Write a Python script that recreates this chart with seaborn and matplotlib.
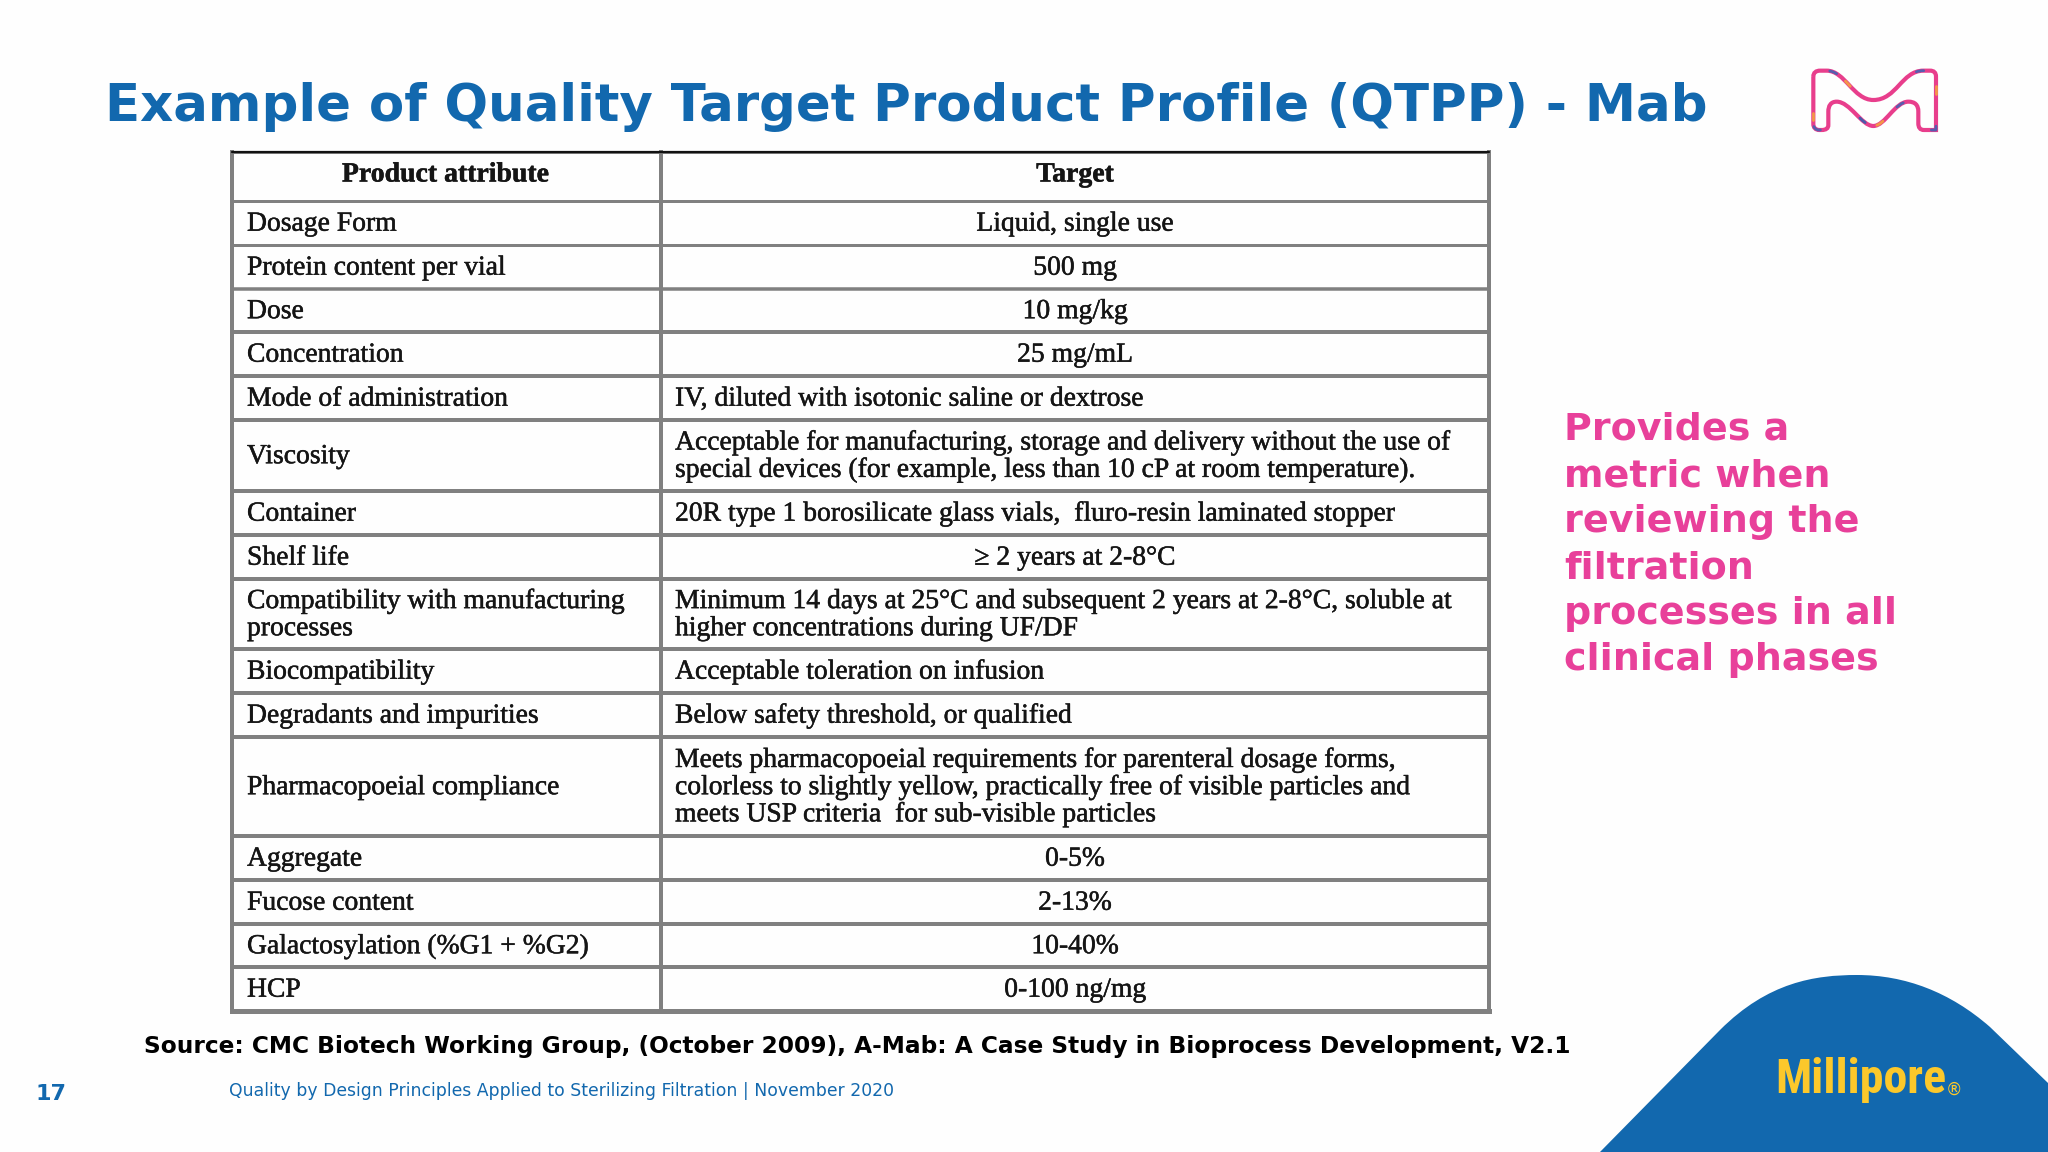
import numpy as np
import pandas as pd
import matplotlib
matplotlib.use('Agg')
import matplotlib.pyplot as plt
import matplotlib.patheffects as pe
from matplotlib.path import Path
from matplotlib.patches import PathPatch
import seaborn as sns

# table content
attributes = ['Dosage Form', 'Protein content per vial', 'Dose', 'Concentration',
              'Mode of administration', 'Viscosity', 'Container', 'Shelf life',
              'Compatibility with manufacturing\nprocesses', 'Biocompatibility',
              'Degradants and impurities', 'Pharmacopoeial compliance', 'Aggregate',
              'Fucose content', 'Galactosylation (%G1 + %G2)', 'HCP']
targets = ['Liquid, single use', '500 mg', '10 mg/kg', '25 mg/mL',
           'IV, diluted with isotonic saline or dextrose',
           'Acceptable for manufacturing, storage and delivery without the use of\nspecial devices (for example, less than 10 cP at room temperature).',
           '20R type 1 borosilicate glass vials,  fluro-resin laminated stopper',
           '≥ 2 years at 2-8°C',
           'Minimum 14 days at 25°C and subsequent 2 years at 2-8°C, soluble at\nhigher concentrations during UF/DF',
           'Acceptable toleration on infusion', 'Below safety threshold, or qualified',
           'Meets pharmacopoeial requirements for parenteral dosage forms,\ncolorless to slightly yellow, practically free of visible particles and\nmeets USP criteria  for sub-visible particles',
           '0-5%', '2-13%', '10-40%', '0-100 ng/mg']
centered = [True, True, True, True, False, False, False, True,
            False, False, False, False, True, True, True, True]
header = ['Product attribute', 'Target']
bullets = ['Provides a', 'metric when', 'reviewing the', 'filtration',
           'processes in all', 'clinical phases']

# layout in pixels
row_edges = [152, 201, 245, 289, 332, 376, 420, 491, 535, 579, 649, 693, 737, 836, 880, 924, 967, 1011]
rule_w = [3, 3, 3, 3.5, 4, 4, 4, 4, 4, 4, 4, 4, 4, 4, 4, 4, 4, 5]
col_x = [232, 661, 1489]
blue = '#1268ae'
pink = '#e8409a'
grid = '#808080'

sns.set_theme(style='white')
fig = plt.figure(figsize=(20.48, 11.52), dpi=100, facecolor='#fefefe')
ax = fig.add_axes([0, 0, 1, 1])

# table rules
rows = []
for i, (y, w) in enumerate(zip(row_edges, rule_w)):
    rows.append({'rule': i, 'x': col_x[0], 'y': y, 'w': w})
    rows.append({'rule': i, 'x': col_x[-1], 'y': y, 'w': w})
for j, x in enumerate(col_x):
    rows.append({'rule': 100 + j, 'x': x, 'y': row_edges[0], 'w': 4})
    rows.append({'rule': 100 + j, 'x': x, 'y': row_edges[-1], 'w': 4})
rules = pd.DataFrame(rows)
rules['lw'] = rules['w'] * 0.72
sizes = {v: v for v in rules['lw'].unique()}
sns.lineplot(data=rules, x='x', y='y', units='rule', estimator=None, size='lw', sizes=sizes,
             color=grid, legend=False, ax=ax, solid_capstyle='projecting')
ax.plot(col_x[::2], [row_edges[0]] * 2, color='#111111', lw=1.6)

ax.set_xlim(0, 2048)
ax.set_ylim(1152, 0)
ax.set_axis_off()

# table text
heavy = [pe.withStroke(linewidth=0.35, foreground='#151515')]
serif = dict(family='Liberation Serif', color='#151515', fontsize=19.9, va='center', path_effects=heavy)
line_gap = 27.2


def put_cell(txt, x, top, bottom, ha):
    lines = txt.split('\n')
    mid = (top + bottom) / 2 + 1.2
    for k, t in enumerate(lines):
        ax.text(x, mid + (k - (len(lines) - 1) / 2) * line_gap, t, ha=ha, **serif)


col_mid = [(col_x[0] + col_x[1]) / 2 - 1, (col_x[1] + col_x[2]) / 2]
for c, h in enumerate(header):
    ax.text(col_mid[c], 175, h, ha='center', fontweight='bold',
            **{**serif, 'fontsize': 20})
for i in range(len(attributes)):
    top, bottom = row_edges[i + 1], row_edges[i + 2]
    put_cell(attributes[i], col_x[0] + 15, top, bottom, 'left')
    if centered[i]:
        put_cell(targets[i], col_mid[1], top, bottom, 'center')
    else:
        put_cell(targets[i], col_x[1] + 14, top, bottom, 'left')

# headings and notes
ax.text(105, 107, 'Example of Quality Target Product Profile (QTPP) - Mab', color=blue,
        fontsize=37, fontweight='bold', family='DejaVu Sans', va='center')
for k, t in enumerate(bullets):
    ax.text(1564, 430 + k * 46.1, t, color=pink, fontsize=27.4, fontweight='bold',
            family='DejaVu Sans', va='center')
ax.text(144, 1046, 'Source: CMC Biotech Working Group, (October 2009), A-Mab: A Case Study in Bioprocess Development, V2.1',
        color='black', fontsize=16.77, fontweight='bold', family='DejaVu Sans', va='center')
ax.text(229, 1091, 'Quality by Design Principles Applied to Sterilizing Filtration | November 2020',
        color=blue, fontsize=12.43, family='DejaVu Sans', va='center')
ax.text(35, 1094, '17', color=blue, fontsize=16, fontweight='bold', family='DejaVu Sans', va='center')

# corner shape
verts = [(1600, 1152), (1720, 1030), (1768, 982), (1815, 975), (1857, 975), (1905, 975),
         (1950, 992), (1990, 1027), (2048, 1083), (2048, 1152), (1600, 1152)]
codes = [Path.MOVETO, Path.LINETO, Path.CURVE4, Path.CURVE4, Path.CURVE4, Path.CURVE4,
         Path.CURVE4, Path.CURVE4, Path.LINETO, Path.LINETO, Path.CLOSEPOLY]
ax.add_patch(PathPatch(Path(verts, codes), facecolor=blue, edgecolor='none', zorder=1))
ax.text(1775, 1080, 'Millipore', color='#fcc82b', fontsize=34.5, fontweight='bold',
        family=['Roboto Condensed', 'Open Sans Condensed', 'Roboto'], va='center')
ax.text(1946, 1090, '®', color='#fcc82b', fontsize=12, family='DejaVu Sans', va='center')

# M logo outline, traced in zoom coordinates of the logo crop
C = Path.CURVE4
L = Path.LINETO
logo_steps = [
    (L, (280, 110)), (C, (280, 98)), (C, (288, 92)), (C, (300, 92)), (L, (320, 92)),
    (C, (375, 92)), (C, (400, 180)), (C, (460, 180)), (C, (530, 180)), (C, (545, 92)), (C, (610, 92)),
    (L, (630, 92)), (C, (642, 92)), (C, (648, 98)), (C, (648, 110)), (L, (648, 270)), (L, (612, 270)),
    (C, (600, 270)), (C, (595, 262)), (C, (595, 250)), (L, (595, 215)), (C, (595, 195)), (C, (585, 185)),
    (C, (565, 185)), (C, (525, 185)), (C, (495, 258)), (C, (460, 258)), (C, (425, 258)), (C, (390, 185)),
    (C, (350, 185)), (C, (332, 185)), (C, (325, 198)), (C, (325, 215)), (L, (325, 255)), (C, (325, 265)),
    (C, (318, 270)), (C, (305, 270)), (L, (298, 270)), (C, (287, 270)), (C, (280, 263)), (C, (280, 252)),
    (L, (280, 110)),
]
logo_xy = [(1720 + x / 3, 40 + y / 3) for _, (x, y) in logo_steps]
logo_codes = [Path.MOVETO] + [c for c, _ in logo_steps[1:]]
logo_path = Path(logo_xy, logo_codes)
ax.add_patch(PathPatch(logo_path, facecolor='none', edgecolor='#e83e8c', lw=3.0, zorder=3))

# colour flecks along the outline
poly = logo_path.to_polygons(closed_only=False)[0]
arc = np.r_[0, np.cumsum(np.hypot(*np.diff(poly, axis=0).T))]
s = np.arange(0, arc[-1], 0.5)
outline = np.c_[np.interp(s, arc, poly[:, 0]), np.interp(s, arc, poly[:, 1])]
flecks = [((340, 95), '#3f63b5'), ((380, 135), '#f5a83c'), ((430, 238), '#2f5fb0'), ((480, 250), '#f5a83c'),
          ((540, 195), '#3f63b5'), ((600, 95), '#3f63b5'), ((645, 150), '#f5a83c'), ((282, 230), '#f5a83c'),
          ((645, 270), '#3f63b5'), ((290, 268), '#3f63b5')]
for (fx, fy), colr in flecks:
    d = np.hypot(outline[:, 0] - (1720 + fx / 3), outline[:, 1] - (40 + fy / 3))
    near = outline[d < 4]
    if len(near) > 1:
        ax.plot(near[:, 0], near[:, 1], color=colr, lw=2.0, zorder=4, solid_capstyle='round', alpha=0.85)

fig.savefig('out.png', dpi=100, facecolor=fig.get_facecolor())
